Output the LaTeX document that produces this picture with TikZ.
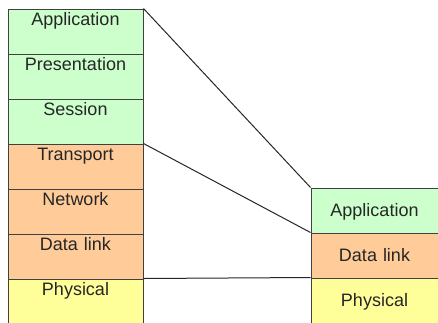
\documentclass[tikz,border=0pt]{standalone}
\usepackage{fontspec}
\setmainfont{Liberation Sans}
\definecolor{lgreen}{HTML}{CCFFCC}
\definecolor{lorange}{HTML}{FFCC99}
\definecolor{lyellow}{HTML}{FFFF99}
\definecolor{edge}{HTML}{404040}
\begin{document}
\begin{tikzpicture}[x=1pt,y=-1pt,
  layer/.style={draw=edge,line width=1pt,rectangle,anchor=north west,inner xsep=0pt,inner ysep=0pt,
    font=\fontsize{18}{20}\selectfont,text=black!85},
  leftlayer/.style={layer,minimum width=135pt,text width=135pt,align=center,text height=16.5pt,text depth=28.5pt},
  rightlayer/.style={layer,minimum width=127pt,text width=127pt,align=center,text height=28pt,text depth=17pt},
  link/.style={draw=black!85,line width=1pt}]
\useasboundingbox (0,0) rectangle (438,322);
\node[leftlayer,fill=lgreen] (lapp) at (7.5,8.5) {Application};
\node[leftlayer,fill=lgreen] (lpres) at (7.5,53.5) {Presentation};
\node[leftlayer,fill=lgreen] (lsess) at (7.5,98.5) {Session};
\node[leftlayer,fill=lorange] (ltrans) at (7.5,143.5) {Transport};
\node[leftlayer,fill=lorange] (lnet) at (7.5,188.5) {Network};
\node[leftlayer,fill=lorange] (ldata) at (7.5,233.5) {Data link};
\node[leftlayer,fill=lyellow] (lphys) at (7.5,278.5) {Physical};
\node[rightlayer,fill=lgreen] (rapp) at (310.5,187.5) {Application};
\node[rightlayer,fill=lorange] (rdata) at (310.5,232.5) {Data link};
\node[rightlayer,fill=lyellow] (rphys) at (310.5,277.5) {Physical};
\draw[link] (lapp.north east) -- (rapp.north west);
\draw[link] (ltrans.north east) -- (rdata.north west);
\draw[link] (lphys.north east) -- (rphys.north west);
\end{tikzpicture}
\end{document}
